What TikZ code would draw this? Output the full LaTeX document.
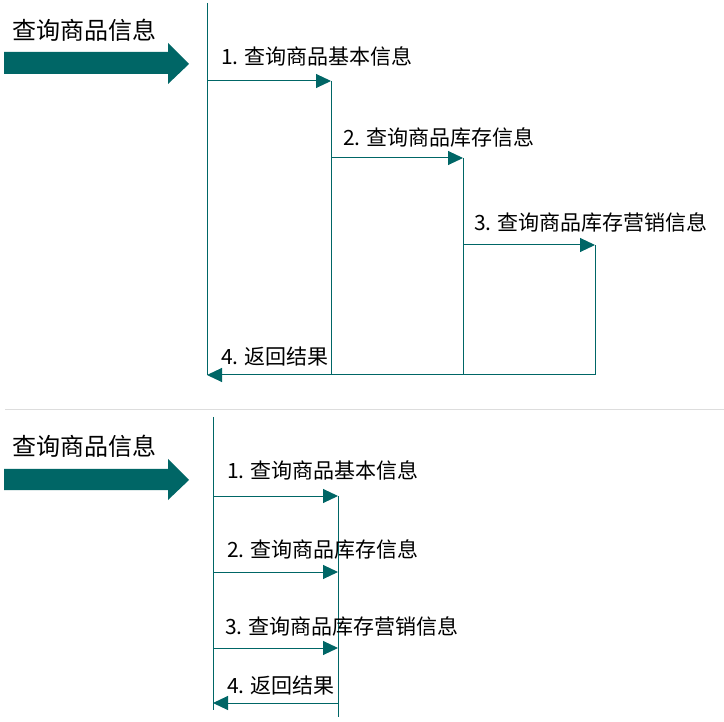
\documentclass[tikz,border=0pt]{standalone}
\usepackage{fontspec}
\setmainfont{Noto Sans CJK SC}
\usetikzlibrary{arrows.meta}
\definecolor{tealc}{RGB}{0,102,102}
\definecolor{sepc}{RGB}{221,221,221}
\tikzset{
  lifeline/.style={draw=tealc, line width=1pt},
  msg/.style={draw=tealc, line width=1pt, -{Triangle[length=15pt,width=14pt]}},
  lbl/.style={anchor=west, inner sep=0pt, font=\fontsize{21pt}{22pt}\selectfont},
  ttl/.style={anchor=west, inner sep=0pt, font=\fontsize{24pt}{25pt}\selectfont},
  bigarrow/.style={fill=tealc, draw=none},
  sep/.style={draw=sepc, line width=1pt}
}
\begin{document}
\begin{tikzpicture}[x=1pt,y=-1pt]
\useasboundingbox[fill=white] (0,0) rectangle (724,722);

% ---------------- top diagram ----------------
\node[ttl] (t1) at (12,30) {查询商品信息};
\path[bigarrow] (4,52) -- (168,52) -- (168,43) -- (189,64) -- (168,84) -- (168,74) -- (4,74) -- cycle;

\coordinate (L1t) at (207,3);
\coordinate (L1b) at (207,375);
\coordinate (A1s) at (207,81);
\coordinate (A1e) at (331,81);
\coordinate (L2b) at (331,375);
\coordinate (A2s) at (331,158);
\coordinate (A2e) at (463,158);
\coordinate (L3b) at (463,375);
\coordinate (A3s) at (463,245);
\coordinate (A3e) at (595,245);
\coordinate (R4s) at (595,375);

\draw[lifeline] (L1t) -- (L1b);
\draw[lifeline] (A1e) -- (L2b);
\draw[lifeline] (A2e) -- (L3b);
\draw[lifeline] (A3e) -- (R4s);
\draw[msg] (A1s) -- (A1e);
\draw[msg] (A2s) -- (A2e);
\draw[msg] (A3s) -- (A3e);
\draw[msg] (R4s) -- (L1b);

\node[lbl] (m1) at (221,56) {1. 查询商品基本信息};
\node[lbl] (m2) at (343,137) {2. 查询商品库存信息};
\node[lbl] (m3) at (474,222) {3. 查询商品库存营销信息};
\node[lbl] (m4) at (221,357) {4. 返回结果};

% separator
\coordinate (S1) at (5,410);
\coordinate (S2) at (724,410);
\draw[sep] (S1) -- (S2);

% ---------------- bottom diagram ----------------
\node[ttl] (t2) at (12,446) {查询商品信息};
\path[bigarrow] (4,469) -- (168,469) -- (168,459) -- (189,480) -- (168,500) -- (168,490) -- (4,490) -- cycle;

\coordinate (M1t) at (213,417);
\coordinate (M1b) at (213,710);
\coordinate (M2t) at (338,496);
\coordinate (M2b) at (338,717);
\coordinate (B1s) at (213,496);
\coordinate (B2s) at (213,572);
\coordinate (B2e) at (338,572);
\coordinate (B3s) at (213,648);
\coordinate (B3e) at (338,648);
\coordinate (B4s) at (338,703);
\coordinate (B4e) at (213,703);

\draw[lifeline] (M1t) -- (M1b);
\draw[lifeline] (M2t) -- (M2b);
\draw[msg] (B1s) -- (M2t);
\draw[msg] (B2s) -- (B2e);
\draw[msg] (B3s) -- (B3e);
\draw[msg] (B4s) -- (B4e);

\node[lbl] (n1) at (227,470) {1. 查询商品基本信息};
\node[lbl] (n2) at (227,549) {2. 查询商品库存信息};
\node[lbl] (n3) at (225,626) {3. 查询商品库存营销信息};
\node[lbl] (n4) at (227,686) {4. 返回结果};
\end{tikzpicture}
\end{document}
